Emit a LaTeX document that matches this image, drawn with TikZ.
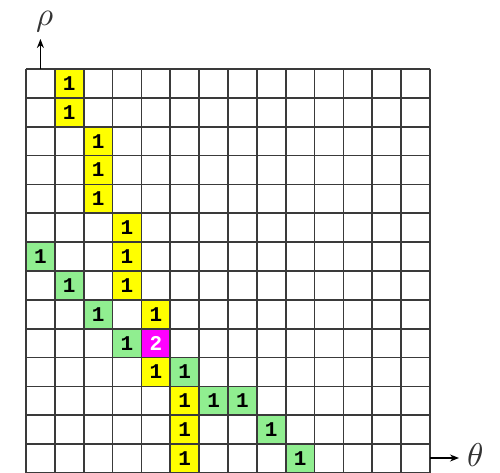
\documentclass[tikz,border=0pt]{standalone}
\usepackage{fontspec}
\usepackage{unicode-math}
\setmathfont{Latin Modern Math}
\setmonofont{Liberation Mono}
\usetikzlibrary{arrows.meta}
\definecolor{cellyellow}{HTML}{FFFF00}
\definecolor{cellgreen}{HTML}{90EE90}
\definecolor{cellmag}{HTML}{FF00FF}
\definecolor{gridgray}{HTML}{3A3A3A}
\begin{document}
\begin{tikzpicture}[x=1pt,y=-1pt,
  cellbox/.style={minimum size=28.857pt,inner sep=0pt,outer sep=0pt,draw=none,
    font=\fontsize{21}{21}\selectfont\ttfamily\bfseries},
  ycell/.style={cellbox,fill=cellyellow},
  gcell/.style={cellbox,fill=cellgreen},
  mcell/.style={cellbox,fill=cellmag,text=white},
  gridline/.style={draw=gridgray,line width=1.8pt},
  axisarrow/.style={-{Stealth[length=9pt,width=7pt]},line width=1.3pt,black},
  axislabel/.style={font=\fontsize{33}{33}\selectfont,inner sep=0pt,text=black!80}]
\useasboundingbox (0,0) rectangle (500,473);
\def\s{28.857}
% coloured cells
\foreach \c/\r/\st [count=\i] in {1/0/ycell,1/1/ycell,2/2/ycell,2/3/ycell,2/4/ycell,3/5/ycell,3/6/ycell,3/7/ycell,4/8/ycell,4/10/ycell,5/11/ycell,5/12/ycell,5/13/ycell,0/6/gcell,1/7/gcell,2/8/gcell,3/9/gcell,5/10/gcell,6/11/gcell,7/11/gcell,8/12/gcell,9/13/gcell}
  \node[\st] (cell\i) at ({26+(\c+0.5)*\s},{69+(\r+0.5)*\s}) {1};
\node[mcell] (celltwo) at ({26+4.5*\s},{69+9.5*\s}) {2};
% grid
\foreach \k in {0,...,14} {
  \draw[gridline] ({26+\k*\s},69) -- ({26+\k*\s},{69+14*\s});
  \draw[gridline] (26,{69+\k*\s}) -- ({26+14*\s},{69+\k*\s});
}
% axes
\coordinate (rhobase) at ({26+0.5*\s},69);
\coordinate (rhotip) at ({26+0.5*\s},39);
\node[axislabel] (rho) at (45,22) {$\rho$};
\draw[axisarrow] (rhobase) -- (rhotip);
\coordinate (thetabase) at ({26+14*\s},458);
\coordinate (thetatip) at (459,458);
\node[axislabel] (theta) at (475,455) {$\theta$};
\draw[axisarrow] (thetabase) -- (thetatip);
\end{tikzpicture}
\end{document}
